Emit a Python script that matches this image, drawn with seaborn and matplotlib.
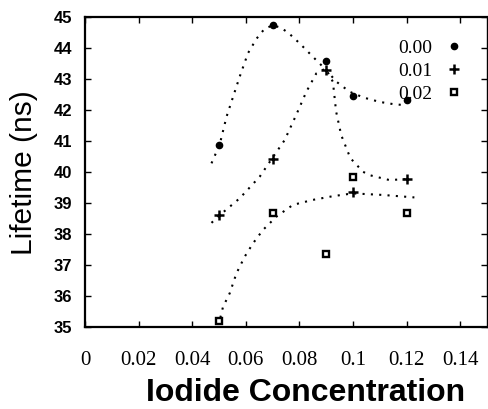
import matplotlib
matplotlib.use("Agg")
import matplotlib.pyplot as plt
import seaborn as sns
import pandas as pd

# measured data points
conc = [0.05, 0.07, 0.09, 0.10, 0.12]
life_000 = [40.87, 44.74, 43.57, 42.44, 42.33]
life_001 = [38.62, 40.41, 43.30, 39.37, 39.76]
life_002 = [35.19, 38.68, 37.37, 39.84, 38.67]
series_labels = ["0.00", "0.01", "0.02"]

# dotted fit curves
fit0_x = [0.0472, 0.0503, 0.0528, 0.0577, 0.0608, 0.0640, 0.0670, 0.0700, 0.0730,
          0.0760, 0.0801, 0.0850, 0.0894, 0.0940, 0.0987, 0.1040, 0.1100, 0.1150, 0.1200]
fit0_y = [40.28, 40.90, 41.78, 43.07, 43.83, 44.30, 44.62, 44.73, 44.66,
          44.48, 44.15, 43.72, 43.34, 42.90, 42.59, 42.40, 42.26, 42.19, 42.15]
fit1_x = [0.0472, 0.0503, 0.0577, 0.0652, 0.0695, 0.0745, 0.0788, 0.0826, 0.0863,
          0.0898, 0.0925, 0.0937, 0.0956, 0.0990, 0.1037, 0.1061, 0.1136, 0.1198]
fit1_y = [38.36, 38.61, 39.15, 39.85, 40.40, 41.03, 41.84, 42.59, 43.18,
          43.34, 42.91, 41.95, 41.19, 40.45, 40.01, 39.90, 39.74, 39.77]
fit2_x = [0.0505, 0.0515, 0.0540, 0.0565, 0.0596, 0.0627, 0.0664, 0.0714, 0.0776,
          0.0850, 0.0925, 0.0999, 0.1111, 0.1229]
fit2_y = [35.30, 35.65, 36.09, 36.73, 37.27, 37.70, 38.13, 38.56, 38.94,
          39.10, 39.22, 39.31, 39.26, 39.18]

x_ticks = [0, 0.02, 0.04, 0.06, 0.08, 0.10, 0.12, 0.14]
x_ticklabels = ["0", "0.02", "0.04", "0.06", "0.08", "0.1", "0.12", "0.14"]
y_ticks = [35, 36, 37, 38, 39, 40, 41, 42, 43, 44, 45]

sns.set_theme(style="white")
plt.rcParams["font.family"] = ["Liberation Sans", "DejaVu Sans"]
plt.rcParams["text.color"] = "black"
plt.rcParams["xtick.color"] = "black"
plt.rcParams["ytick.color"] = "black"
plt.rcParams["axes.labelcolor"] = "black"

fig = plt.figure(figsize=(4.88, 4.09), dpi=100)
ax = fig.add_axes([85 / 488, (409 - 327) / 409, 402 / 488, 310 / 409])

dotted = (0, (1, 3))
for fx, fy in [(fit0_x, fit0_y), (fit1_x, fit1_y), (fit2_x, fit2_y)]:
    df = pd.DataFrame({"x": fx, "y": fy})
    sns.lineplot(data=df, x="x", y="y", ax=ax, color="black", lw=1.5,
                 linestyle=dotted, estimator=None, sort=False, legend=False)

handles = []
for vals, lab in zip([life_000, life_001, life_002], series_labels):
    df = pd.DataFrame({"x": conc, "y": vals})
    if lab == "0.01":
        h, = ax.plot(df["x"], df["y"], linestyle="none", marker="+", ms=7,
                     mew=1.8, color="black", label=lab)
    elif lab == "0.00":
        h, = ax.plot(df["x"], df["y"], linestyle="none", marker="o", ms=4.5,
                     color="black", label=lab)
    else:
        h, = ax.plot(df["x"], df["y"], linestyle="none", marker="s", ms=4.5,
                     mfc="white", mec="black", mew=1.7, label=lab)
    handles.append(h)

ax.set_xlim(0, 0.15)
ax.set_ylim(35, 45)
ax.set_xticks(x_ticks)
ax.set_xticklabels(x_ticklabels, fontfamily="Liberation Serif", fontsize=15,
                   color="black")
ax.set_yticks(y_ticks)
ax.set_yticklabels([str(v) for v in y_ticks], fontweight="bold", fontsize=12,
                   color="black")
ax.tick_params(axis="both", direction="in", length=4, width=1, color="black",
               top=True, right=True, bottom=True, left=True)
ax.tick_params(axis="x", pad=17)
ax.tick_params(axis="y", pad=9)
for sp in ax.spines.values():
    sp.set_color("black")
    sp.set_linewidth(1.6)
ax.spines["right"].set_linewidth(1.0)

ax.set_xlabel("")
ax.set_ylabel("")
fig.text(306 / 488, (409 - 393) / 409, "Iodide Concentration", ha="center",
         va="center", fontsize=23, fontweight="heavy", color="black")
fig.text(24 / 488, (409 - 173) / 409, "Lifetime (ns)", ha="center", va="center",
         rotation=90, fontsize=21.5, color="black")

leg = ax.legend(handles=handles, labels=series_labels, loc="upper right",
                bbox_to_anchor=(0.98, 0.985), frameon=False, markerfirst=False,
                prop={"family": "Liberation Serif", "size": 14},
                handlelength=0.8, handletextpad=0.7, labelspacing=0.28)
for t in leg.get_texts():
    t.set_color("black")

fig.savefig("out.png", dpi=100)
